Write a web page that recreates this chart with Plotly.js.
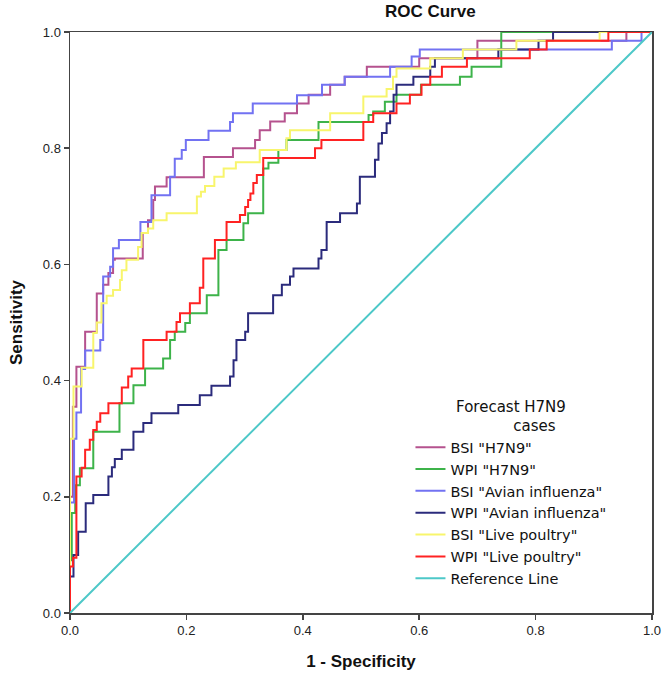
<!DOCTYPE html>
<html>
<head>
<meta charset="utf-8">
<script src="https://cdn.plot.ly/plotly-3.0.1.min.js"></script>
<style>
  html, body { margin: 0; padding: 0; background: #fff; }
  #rocPlot { width: 664px; height: 684px; }
</style>
</head>
<body>
<div id="rocPlot"></div>
<script>
// ROC曲線の値（画像から読み取り：1 - 特異度, 感度）
const bsiH7n9X = [0, 0, 0.005, 0.011, 0.026, 0.046, 0.057, 0.066, 0.074, 0.077, 0.125, 0.134, 0.143, 0.146, 0.166, 0.230, 0.280, 0.318, 0.326, 0.344, 0.369, 0.390, 0.410, 0.447, 0.472, 0.510, 0.600, 0.700, 0.956, 1];
const bsiH7n9Y = [0, 0.20, 0.355, 0.424, 0.484, 0.550, 0.565, 0.585, 0.608, 0.610, 0.654, 0.676, 0.711, 0.734, 0.750, 0.785, 0.800, 0.814, 0.831, 0.846, 0.860, 0.877, 0.892, 0.909, 0.923, 0.940, 0.955, 0.985, 1, 1];

const wpiH7n9X = [0, 0, 0.003, 0.009, 0.017, 0.040, 0.085, 0.109, 0.129, 0.160, 0.172, 0.180, 0.198, 0.206, 0.235, 0.255, 0.269, 0.298, 0.306, 0.332, 0.341, 0.358, 0.372, 0.427, 0.513, 0.521, 0.541, 0.561, 0.603, 0.670, 0.690, 0.741, 1];
const wpiH7n9Y = [0, 0.091, 0.172, 0.220, 0.249, 0.312, 0.361, 0.392, 0.421, 0.438, 0.470, 0.484, 0.499, 0.516, 0.547, 0.625, 0.642, 0.671, 0.688, 0.765, 0.775, 0.797, 0.814, 0.845, 0.857, 0.863, 0.880, 0.892, 0.909, 0.923, 0.940, 1, 1];

const bsiAvianX = [0, 0, 0.007, 0.011, 0.019, 0.026, 0.052, 0.057, 0.069, 0.074, 0.084, 0.121, 0.140, 0.172, 0.180, 0.192, 0.199, 0.238, 0.275, 0.280, 0.314, 0.390, 0.433, 0.472, 0.550, 0.587, 0.601, 0.931, 0.982, 1];
const bsiAvianY = [0, 0.19, 0.30, 0.345, 0.42, 0.452, 0.47, 0.579, 0.596, 0.628, 0.642, 0.673, 0.719, 0.751, 0.782, 0.797, 0.814, 0.830, 0.845, 0.860, 0.877, 0.891, 0.909, 0.923, 0.940, 0.958, 0.970, 0.985, 1, 1];

const wpiAvianX = [0, 0, 0.006, 0.014, 0.027, 0.040, 0.066, 0.072, 0.077, 0.089, 0.109, 0.126, 0.140, 0.186, 0.223, 0.243, 0.275, 0.281, 0.286, 0.301, 0.306, 0.349, 0.364, 0.378, 0.384, 0.427, 0.432, 0.441, 0.464, 0.493, 0.498, 0.524, 0.530, 0.536, 0.544, 0.550, 0.556, 0.561, 0.590, 0.619, 0.627, 0.736, 0.805, 0.830, 1];
const wpiAvianY = [0, 0.063, 0.10, 0.14, 0.189, 0.203, 0.235, 0.251, 0.265, 0.281, 0.312, 0.327, 0.344, 0.358, 0.375, 0.391, 0.407, 0.435, 0.470, 0.484, 0.516, 0.547, 0.565, 0.579, 0.593, 0.610, 0.625, 0.673, 0.688, 0.705, 0.751, 0.780, 0.808, 0.826, 0.843, 0.863, 0.892, 0.909, 0.923, 0.940, 0.955, 0.970, 0.985, 1, 1];

const bsiLiveX = [0, 0, 0.006, 0.020, 0.040, 0.046, 0.054, 0.063, 0.074, 0.086, 0.089, 0.097, 0.117, 0.123, 0.134, 0.143, 0.166, 0.218, 0.225, 0.232, 0.248, 0.264, 0.285, 0.326, 0.372, 0.378, 0.447, 0.504, 0.544, 0.555, 0.561, 0.619, 0.675, 0.767, 0.910, 1];
const bsiLiveY = [0, 0.30, 0.39, 0.422, 0.482, 0.500, 0.533, 0.546, 0.556, 0.573, 0.590, 0.608, 0.630, 0.654, 0.662, 0.676, 0.688, 0.717, 0.725, 0.735, 0.751, 0.765, 0.776, 0.797, 0.817, 0.831, 0.860, 0.889, 0.902, 0.923, 0.937, 0.955, 0.970, 0.985, 1, 1];

const wpiLiveX = [0, 0, 0.005, 0.011, 0.020, 0.026, 0.034, 0.040, 0.046, 0.052, 0.066, 0.089, 0.100, 0.106, 0.126, 0.166, 0.183, 0.189, 0.206, 0.223, 0.229, 0.249, 0.269, 0.292, 0.301, 0.306, 0.310, 0.315, 0.321, 0.332, 0.421, 0.432, 0.504, 0.521, 0.561, 0.584, 0.604, 0.619, 0.639, 0.682, 0.790, 0.819, 0.925, 1];
const wpiLiveY = [0, 0.08, 0.095, 0.235, 0.250, 0.281, 0.298, 0.315, 0.329, 0.344, 0.361, 0.388, 0.407, 0.421, 0.470, 0.484, 0.501, 0.516, 0.533, 0.560, 0.610, 0.642, 0.673, 0.685, 0.699, 0.711, 0.722, 0.740, 0.754, 0.783, 0.800, 0.814, 0.845, 0.860, 0.877, 0.892, 0.909, 0.923, 0.940, 0.955, 0.970, 0.985, 1, 1];

const refLineX = [0, 1];
const refLineY = [0, 1];

const seriesNames = ['BSI "H7N9"', 'WPI "H7N9"', 'BSI "Avian influenza"', 'WPI "Avian influenza"', 'BSI "Live poultry"', 'WPI "Live poultry"', 'Reference Line'];
const seriesColors = ['#b5528e', '#3db34a', '#7272f2', '#2b2b7c', '#f8f56c', '#ff2222', '#4dc8c8'];
const tickVals = [0, 0.2, 0.4, 0.6, 0.8, 1.0];
// 凡例タイトル（2行目は中央寄せのため空白で調整）
const legendTitle = 'Forecast H7N9<br>' + '\u00a0'.repeat(12) + 'cases';

// 階段状のトレースを作成
function stepTrace(x, y, i) {
    return {
        x: x,
        y: y,
        type: 'scatter',
        mode: 'lines',
        name: seriesNames[i],
        line: { color: seriesColors[i], width: 2, shape: 'hv' },
        hoverinfo: 'skip'
    };
}

const traces = [
    stepTrace(bsiH7n9X, bsiH7n9Y, 0),
    stepTrace(wpiH7n9X, wpiH7n9Y, 1),
    stepTrace(bsiAvianX, bsiAvianY, 2),
    stepTrace(wpiAvianX, wpiAvianY, 3),
    stepTrace(bsiLiveX, bsiLiveY, 4),
    stepTrace(wpiLiveX, wpiLiveY, 5),
    {
        x: refLineX,
        y: refLineY,
        type: 'scatter',
        mode: 'lines',
        name: seriesNames[6],
        line: { color: seriesColors[6], width: 2 },
        hoverinfo: 'skip'
    }
];

const axisCommon = {
    range: [0, 1],
    tickvals: tickVals,
    tickformat: '.1f',
    ticks: 'outside',
    ticklen: 5,
    tickwidth: 1.5,
    tickcolor: '#444',
    showline: true,
    linecolor: '#444',
    linewidth: 1.5,
    mirror: true,
    showgrid: false,
    zeroline: false,
    tickfont: { size: 13, color: '#222' },
    fixedrange: true
};

const layout = {
    width: 664,
    height: 684,
    margin: { l: 70, r: 12, t: 32, b: 71 },
    paper_bgcolor: '#fff',
    plot_bgcolor: '#fff',
    font: { family: 'Liberation Sans, Arial, sans-serif', color: '#111' },
    title: {
        text: '<b>ROC Curve</b>',
        font: { size: 17, color: '#111' },
        x: 0.648, xref: 'container', xanchor: 'center',
        y: 0.984, yref: 'container', yanchor: 'middle'
    },
    xaxis: Object.assign({}, axisCommon, {
        title: { text: '<b>1 - Specificity</b>', font: { size: 17 }, standoff: 18 }
    }),
    yaxis: Object.assign({}, axisCommon, {
        title: { text: '<b>Sensitivity</b>', font: { size: 17 }, standoff: 16 }
    }),
    showlegend: true,
    legend: {
        x: 0.585, xanchor: 'left',
        y: 0.38, yanchor: 'top',
        bgcolor: 'rgba(0,0,0,0)',
        borderwidth: 0,
        font: { family: 'DejaVu Sans, sans-serif', size: 14.5, color: '#111' },
        itemwidth: 30,
        tracegroupgap: 0,
        title: {
            text: legendTitle,
            side: 'top center',
            font: { family: 'DejaVu Sans, sans-serif', size: 15, color: '#111' }
        }
    }
};

Plotly.newPlot('rocPlot', traces, layout, { displayModeBar: false, staticPlot: true });
</script>
</body>
</html>
